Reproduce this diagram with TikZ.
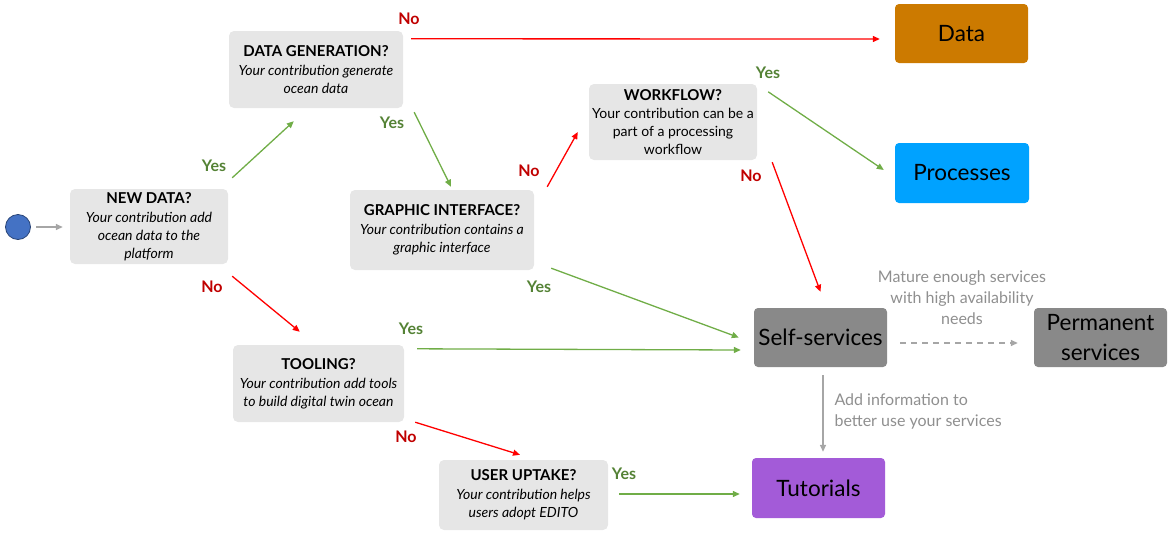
\documentclass[tikz,border=0pt]{standalone}
\usepackage{fontspec}
\setmainfont{Lato}
\usetikzlibrary{arrows.meta,calc}
\definecolor{qbox}{HTML}{E6E6E6}
\definecolor{arrgreen}{HTML}{70AD47}
\definecolor{yesgreen}{HTML}{548235}
\definecolor{arrred}{HTML}{FF0000}
\definecolor{nored}{HTML}{C00000}
\definecolor{arrgray}{HTML}{A6A6A6}
\definecolor{lblgray}{HTML}{8F8F8F}
\definecolor{dataorange}{HTML}{CC7A00}
\definecolor{procblue}{HTML}{00A2FF}
\definecolor{servgray}{HTML}{898989}
\definecolor{tutpurple}{HTML}{A35BD8}
\definecolor{startblue}{HTML}{4472C4}
\begin{document}
\begin{tikzpicture}[x=1pt,y=-1pt,
  qnode/.style={fill=qbox, rounded corners=5pt, align=center, inner sep=1pt,
    font=\fontsize{14}{18}\selectfont},
  bignode/.style={rounded corners=4pt, align=center, inner sep=1pt,
    font=\fontsize{22.5}{30}\selectfont},
  yesarr/.style={draw=arrgreen, line width=1.3pt, -{Triangle[length=7pt,width=6pt]}},
  noarr/.style={draw=arrred, line width=1.3pt, -{Triangle[length=7pt,width=6pt]}},
  grayarr/.style={draw=arrgray, line width=1.5pt, -{Triangle[length=7pt,width=6pt]}},
  yeslbl/.style={text=yesgreen, font=\bfseries\fontsize{16}{18}\selectfont},
  nolbl/.style={text=nored, font=\bfseries\fontsize{16}{18}\selectfont},
  graylbl/.style={text=lblgray, font=\fontsize{16}{21}\selectfont}
]
\useasboundingbox (0,0) rectangle (1173,536);

% start
\node[circle, draw=startblue!60!black, fill=startblue, minimum size=25pt, inner sep=0pt, line width=0.8pt] (start) at (18,227) {};

% question boxes
\node[qnode, minimum width=158pt, minimum height=75pt] (new) at (149,226.5)
  {{\bfseries\fontsize{15}{18}\selectfont NEW DATA?}\\[1pt]\itshape Your contribution add\\\itshape ocean data to the\\\itshape platform};
\node[qnode, minimum width=174pt, minimum height=77pt] (gen) at (316,69.5)
  {{\bfseries\fontsize{15}{18}\selectfont DATA GENERATION?}\\[1pt]\itshape Your contribution generate\\\itshape ocean data};
\node[qnode, minimum width=184pt, minimum height=80pt] (graph) at (442,230)
  {{\bfseries\fontsize{15}{18}\selectfont GRAPHIC INTERFACE?}\\[1pt]\itshape Your contribution contains a\\\itshape graphic interface};
\node[qnode, minimum width=168pt, minimum height=76pt] (work) at (673,122)
  {{\bfseries\fontsize{15}{18}\selectfont WORKFLOW?}\\Your contribution can be a\\part of a processing\\workflow};
\node[qnode, minimum width=171pt, minimum height=77pt] (tool) at (318.5,383.5)
  {{\bfseries\fontsize{15}{18}\selectfont TOOLING?}\\[1pt]\itshape Your contribution add tools\\\itshape to build digital twin ocean};
\node[qnode, minimum width=169pt, minimum height=70pt] (user) at (523.5,495)
  {{\bfseries\fontsize{15}{18}\selectfont USER UPTAKE?}\\[1pt]\itshape Your contribution helps\\\itshape users adopt EDITO};

% outcome boxes
\node[bignode, fill=dataorange, minimum width=133pt, minimum height=59pt] (data) at (961.5,33.5) {Data};
\node[bignode, fill=procblue, minimum width=134pt, minimum height=60pt] (proc) at (962,173) {Processes};
\node[bignode, fill=servgray, minimum width=133pt, minimum height=59pt] (self) at (820.5,337.5) {Self-services};
\node[bignode, fill=servgray, minimum width=133pt, minimum height=59pt] (perm) at (1100.5,337.5) {Permanent\\services};
\node[bignode, fill=tutpurple, minimum width=133pt, minimum height=60pt] (tut) at (818.5,488) {Tutorials};

% connectors
\draw[grayarr] ($(start.east)+(5.5,0)$) -- ($(new.west)+(-7,0.5)$);
\draw[yesarr] ($(new.north east)+(4,-11)$) -- ($(gen.south west)+(65,13)$);
\draw[noarr] ($(new.south east)+(4,12)$) -- ($(tool.north west)+(67,-13)$);
\draw[noarr] ($(gen.north east)+(8,8)$) -- ($(data.west)+(-15,5.5)$);
\draw[yesarr] ($(gen.south east)+(11,4)$) -- ($(graph.north)+(9,-3)$);
\draw[noarr] ($(graph.north east)+(13,-3)$) -- ($(work.west)+(-11,10)$);
\draw[yesarr] ($(work.north east)+(11,8)$) -- ($(proc.west)+(-11,-3)$);
\draw[noarr] ($(work.south east)+(15,2)$) -- ($(self.north)+(0,-16)$);
\draw[yesarr] ($(graph.south east)+(17,-2)$) -- ($(self.west)+(-15,0)$);
\draw[yesarr] ($(tool.north east)+(13,4)$) -- ($(self.west)+(-13,12.5)$);
\draw[noarr] ($(tool.south east)+(11,0)$) -- ($(user.north)+(-3.5,-5)$);
\draw[yesarr] ($(user.east)+(11,-1)$) -- ($(tut.west)+(-12,6)$);
\draw[grayarr, dash pattern=on 6pt off 5pt] ($(self.east)+(13,5.5)$) -- ($(perm.west)+(-16,5.5)$);
\draw[grayarr] ($(self.south)+(2.5,8)$) -- ($(tut.north)+(4.5,-6)$);

% yes/no labels
\node[yeslbl] (l1) at (214,166) {Yes};
\node[nolbl] (l2) at (212,287) {No};
\node[nolbl] (l3) at (409,19) {No};
\node[yeslbl] (l4) at (392,123) {Yes};
\node[nolbl] (l5) at (529,171) {No};
\node[yeslbl] (l6) at (768,73) {Yes};
\node[nolbl] (l7) at (751,176) {No};
\node[yeslbl] (l8) at (539,287) {Yes};
\node[yeslbl] (l9) at (411,329) {Yes};
\node[nolbl] (l10) at (406,437) {No};
\node[yeslbl] (l11) at (624,474) {Yes};

% gray labels
\node[graylbl, align=center] (mature) at (962,298) {Mature enough services\\with high availability\\needs};
\node[graylbl, align=left, anchor=west] (addinfo) at (831,411.5) {Add information to\\better use your services};
\end{tikzpicture}
\end{document}
